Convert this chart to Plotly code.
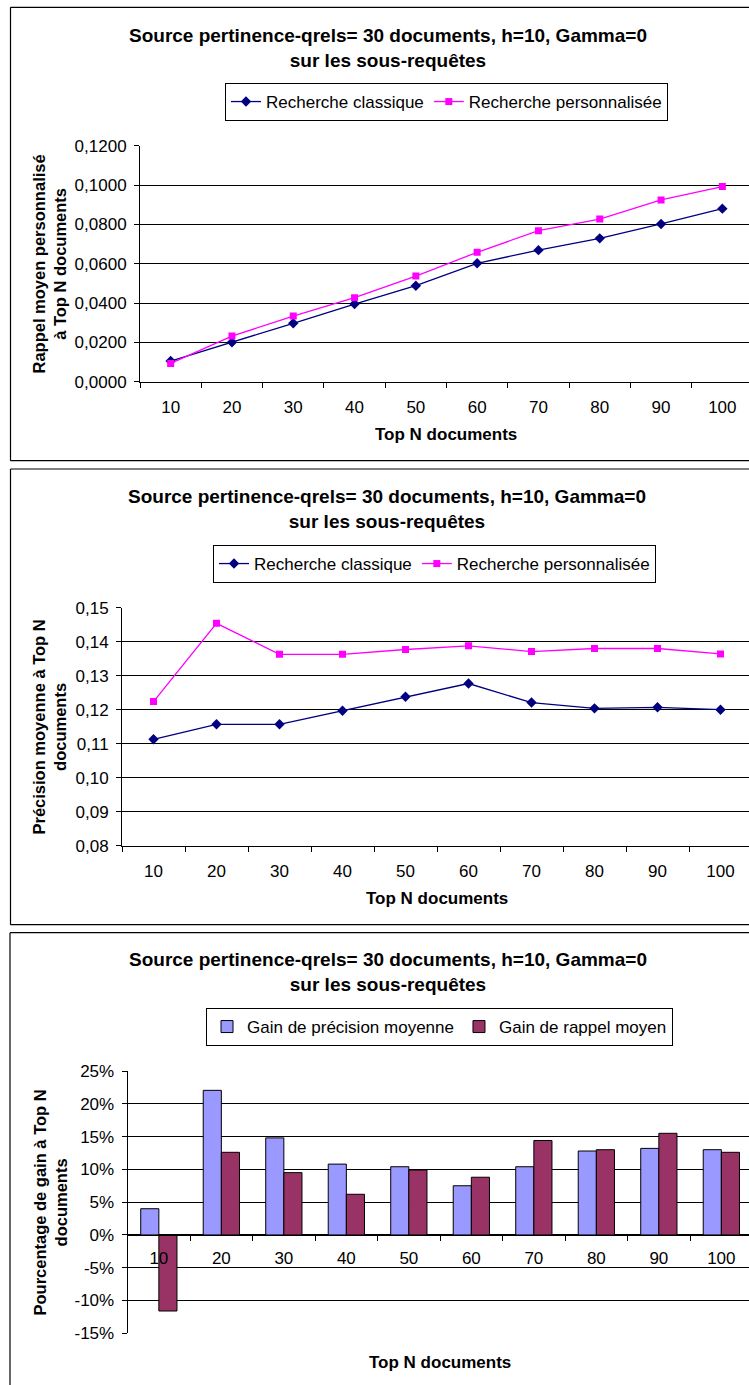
import plotly.graph_objects as go

categories = ["10", "20", "30", "40", "50", "60", "70", "80", "90", "100"]

rappel_classique = [0.0105, 0.0200, 0.0297, 0.0395, 0.0488, 0.0602, 0.0669, 0.0729, 0.0802, 0.0880]
rappel_perso = [0.0093, 0.0232, 0.0334, 0.0427, 0.0537, 0.0658, 0.0768, 0.0827, 0.0924, 0.0992]

precision_classique = [0.1113, 0.1157, 0.1157, 0.1197, 0.1238, 0.1277, 0.1221, 0.1204, 0.1207, 0.1200]
precision_perso = [0.1224, 0.1454, 0.1363, 0.1363, 0.1377, 0.1388, 0.1371, 0.1380, 0.1380, 0.1364]

gain_precision = [0.040, 0.2205, 0.148, 0.108, 0.104, 0.075, 0.104, 0.128, 0.132, 0.130]
gain_rappel = [-0.116, 0.126, 0.095, 0.062, 0.099, 0.088, 0.144, 0.130, 0.155, 0.126]

y3_tickvals = [-0.15, -0.10, -0.05, 0, 0.05, 0.10, 0.15, 0.20, 0.25]
y3_ticktext = ["-15%", "-10%", "-5%", "0%", "5%", "10%", "15%", "20%", "25%"]

title_text = "Source pertinence-qrels= 30 documents, h=10, Gamma=0<br>sur les sous-requêtes"

W, H = 749, 1385
NARROW = "Liberation Sans Narrow, Arial Narrow, Liberation Sans, Arial"
WIDE = "Liberation Sans, Arial, sans-serif"


def px(x):
    return x / W


def py(y):
    return 1 - y / H


fig = go.Figure()

# Panel 1 - rappel
fig.add_trace(go.Scatter(x=categories, y=rappel_classique, name="Recherche classique",
                         mode="lines+markers", line=dict(color="#000080", width=1.3),
                         marker=dict(symbol="diamond", size=8, color="#000080"),
                         xaxis="x", yaxis="y", legend="legend"))
fig.add_trace(go.Scatter(x=categories, y=rappel_perso, name="Recherche personnalisée",
                         mode="lines+markers", line=dict(color="#FF00FF", width=1.3),
                         marker=dict(symbol="square", size=7, color="#FF00FF"),
                         xaxis="x", yaxis="y", legend="legend"))

# Panel 2 - precision
fig.add_trace(go.Scatter(x=categories, y=precision_classique, name="Recherche classique",
                         mode="lines+markers", line=dict(color="#000080", width=1.3),
                         marker=dict(symbol="diamond", size=8, color="#000080"),
                         xaxis="x2", yaxis="y2", legend="legend2"))
fig.add_trace(go.Scatter(x=categories, y=precision_perso, name="Recherche personnalisée",
                         mode="lines+markers", line=dict(color="#FF00FF", width=1.3),
                         marker=dict(symbol="square", size=7, color="#FF00FF"),
                         xaxis="x2", yaxis="y2", legend="legend2"))

# Panel 3 - gains
fig.add_trace(go.Bar(x=categories, y=gain_precision, name="Gain de précision moyenne",
                     marker=dict(color="#9999FF", line=dict(color="#000000", width=1)),
                     xaxis="x3", yaxis="y3", legend="legend3"))
fig.add_trace(go.Bar(x=categories, y=gain_rappel, name="Gain de rappel moyen",
                     marker=dict(color="#993366", line=dict(color="#000000", width=1)),
                     xaxis="x3", yaxis="y3", legend="legend3"))

tickfont = dict(family=NARROW, size=17, color="#000000")

common_x = dict(type="category", showline=True, linecolor="#000000", linewidth=1,
                ticks="outside", ticklen=5, tickcolor="#000000", tickson="boundaries",
                showgrid=False, zeroline=False, tickfont=tickfont, fixedrange=True,
                automargin=False)
common_y = dict(showline=True, linecolor="#000000", linewidth=1, ticks="outside",
                ticklen=5, tickcolor="#000000", showgrid=True, gridcolor="#000000",
                gridwidth=1, zeroline=False, tickfont=tickfont, fixedrange=True,
                automargin=False)

# panel geometry in pixels
p1 = dict(left=140, right=753, top=145.7, bottom=381.7)
p2 = dict(left=122, right=752, top=607.7, bottom=845.7)
p3 = dict(left=127.6, right=752.6, top=1071, bottom=1333.3)


def xrange_for(p):
    step = (p["right"] - p["left"]) / 10
    return [-0.5, 9.5 - (p["right"] - W) / step]


y3_min, y3_max = -0.15, 0.25
zero_frac = py(p3["bottom"]) + (0 - y3_min) / (y3_max - y3_min) * (py(p3["top"]) - py(p3["bottom"]))

legend_font = dict(family=NARROW, size=17, color="#000000")
legend_common = dict(yanchor="top", orientation="h", bordercolor="#000000", borderwidth=1,
                     bgcolor="#FFFFFF", font=legend_font, tracegroupgap=0)

fig.update_layout(
    width=W, height=H, autosize=False,
    margin=dict(l=0, r=0, t=0, b=0, pad=0, autoexpand=False),
    paper_bgcolor="#FFFFFF", plot_bgcolor="#FFFFFF",
    separators=", ",
    showlegend=True,
    barmode="group", bargap=0.42, bargroupgap=0,
    xaxis=dict(common_x, domain=[px(p1["left"]), 1], range=xrange_for(p1), anchor="y",
               ticklabelstandoff=10),
    yaxis=dict(common_y, domain=[py(p1["bottom"]), py(p1["top"])], range=[0, 0.12],
               dtick=0.02, tickformat=".4f", anchor="x", ticklabelstandoff=4),
    xaxis2=dict(common_x, domain=[px(p2["left"]), 1], range=xrange_for(p2), anchor="y2",
                ticklabelstandoff=10),
    yaxis2=dict(common_y, domain=[py(p2["bottom"]), py(p2["top"])], range=[0.08, 0.15],
                dtick=0.01, tickformat=".2f", anchor="x2", ticklabelstandoff=4),
    xaxis3=dict(common_x, domain=[px(p3["left"]), 1], range=xrange_for(p3), anchor="free",
                position=zero_frac, ticklabelstandoff=8),
    yaxis3=dict(common_y, domain=[py(p3["bottom"]), py(p3["top"])], range=[y3_min, y3_max],
                tickvals=y3_tickvals, ticktext=y3_ticktext, anchor="x3", ticklabelstandoff=4),
    legend=dict(legend_common, x=px(225), y=py(83), xanchor="left"),
    legend2=dict(legend_common, x=px(213), y=py(545), xanchor="left"),
    legend3=dict(legend_common, x=px(439.5), y=py(1008), xanchor="center"),
)

# panel borders (left, top, bottom edges; right side runs off the page as in the original)
border = dict(color="#000000", width=1.2)
panels = [(10.5, 7.3, 460.7, True), (10.5, 469, 924.7, True), (10, 932.7, None, False)]
for (x0, y0, y1, has_bottom) in panels:
    ybot = y1 if has_bottom else H
    fig.add_shape(type="line", xref="paper", yref="paper",
                  x0=px(x0), x1=px(x0), y0=py(ybot), y1=py(y0), line=border, layer="below")
    fig.add_shape(type="line", xref="paper", yref="paper",
                  x0=px(x0), x1=1, y0=py(y0), y1=py(y0), line=border, layer="below")
    if has_bottom:
        fig.add_shape(type="line", xref="paper", yref="paper",
                      x0=px(x0), x1=1, y0=py(y1), y1=py(y1), line=border, layer="below")

title_font = dict(family=NARROW, size=19, color="#000000")
axis_title_font = dict(family=NARROW, size=17, color="#000000")
ytitle_font = dict(family=WIDE, size=16.5, color="#000000")

annots = [
    (387.5, 48, title_text, title_font, 0),
    (387, 509, title_text, title_font, 0),
    (388, 972, title_text, title_font, 0),
    (446, 434, "<b>Top N documents</b>", axis_title_font, 0),
    (437, 898, "<b>Top N documents</b>", axis_title_font, 0),
    (440, 1362, "<b>Top N documents</b>", axis_title_font, 0),
    (48.5, 264, "<b>Rappel moyen personnalisé<br>à Top N documents</b>", ytitle_font, -90),
    (48.5, 727, "<b>Précision moyenne à Top N<br>documents</b>", ytitle_font, -90),
    (49.5, 1203, "<b>Pourcentage de gain à Top N<br>documents</b>", ytitle_font, -90),
]
for (x, y, text, font, angle) in annots:
    if angle == 0 and "Source" in text:
        text = "<b>" + text + "</b>"
    fig.add_annotation(x=px(x), y=py(y), xref="paper", yref="paper", text=text,
                       showarrow=False, font=font, textangle=angle,
                       xanchor="center", yanchor="middle", align="center")

fig.write_html("out.html", config={"displayModeBar": False})

# remove default page margins so the figure fills the window exactly
with open("out.html", "r", encoding="utf-8") as f:
    html = f.read()
html = html.replace("<head>", "<head><style>html,body{margin:0;padding:0;overflow:hidden;}</style>", 1)
with open("out.html", "w", encoding="utf-8") as f:
    f.write(html)
